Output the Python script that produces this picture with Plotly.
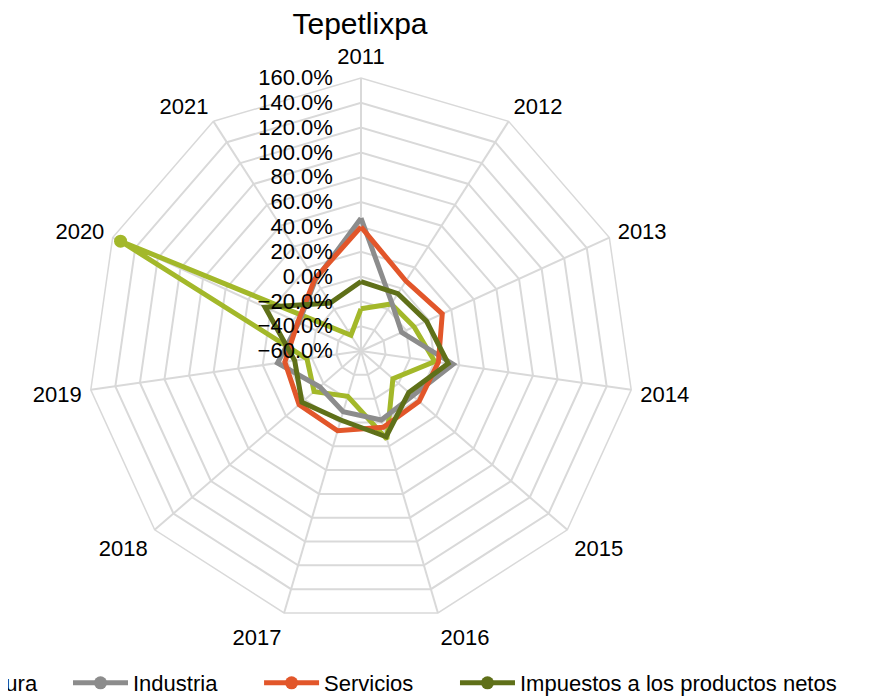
import plotly.graph_objects as go

years = ["2011", "2012", "2013", "2014", "2015", "2016", "2017", "2018", "2019", "2020", "2021"]
agricultura = [-0.26, -0.15, -0.13, 0.00, -0.26, 0.14, -0.22, -0.10, -0.16, 1.53, -0.45]
industria = [0.47, -0.14, -0.24, 0.15, -0.05, -0.02, -0.09, -0.16, 0.08, -0.05, 0.08]
servicios = [0.40, 0.07, 0.12, 0.03, 0.02, 0.04, 0.07, 0.06, 0.02, -0.04, 0.09]
impuestos = [-0.04, -0.05, -0.02, 0.11, -0.09, 0.12, -0.02, 0.03, -0.06, 0.25, -0.14]
series_names = ["Agricultura", "Industria", "Servicios", "Impuestos a los productos netos"]
series_values = [agricultura, industria, servicios, impuestos]
series_colors = ["#A3B82A", "#8C8C8C", "#E2562A", "#5F7019"]

# figure coordinates (page has an 8px body margin)
W, H = 864, 692
MB = 40
GH = H - MB
cx, cy, R = 353, 343, 273
PAD = "\u00a0" * 6  # extra spacing after legend entries

fig = go.Figure()
for i, (name, vals, col) in enumerate(zip(series_names, series_values, series_colors)):
    label = name + (PAD if 0 < i < len(series_names) - 1 else "")
    fig.add_trace(go.Scatterpolar(
        r=vals + [vals[0]],
        theta=years + [years[0]],
        mode="lines+markers",
        name=label,
        legend="legend2" if i == 0 else "legend",
        line=dict(color=col, width=5),
        marker=dict(color=col, size=13),
    ))

font = "Liberation Sans, Arial, sans-serif"
leg_common = dict(
    orientation="h", y=-23 / GH, yanchor="middle", xanchor="left",
    itemwidth=55, font=dict(size=22, family=font, color="#000000"),
    bgcolor="rgba(0,0,0,0)",
)
fig.update_layout(
    width=W, height=H,
    paper_bgcolor="white",
    margin=dict(l=0, r=0, t=0, b=MB, autoexpand=False),
    font=dict(family=font, color="#000000"),
    title=dict(text="Tepetlixpa", x=352 / W, xanchor="center", y=1 - 15 / H,
               yanchor="middle", font=dict(size=30, family=font, color="#000000")),
    polar=dict(
        domain=dict(x=[(cx - R) / W, (cx + R) / W],
                    y=[(GH - cy - R) / GH, (GH - cy + R) / GH]),
        bgcolor="white",
        gridshape="linear",
        radialaxis=dict(
            range=[-0.6, 1.6], tick0=-0.6, dtick=0.2, tickformat=".1%",
            angle=90, side="counterclockwise", tickangle=90,
            showline=False, gridcolor="#D9D9D9", gridwidth=1.5,
            ticks="outside", ticklen=20, tickcolor="rgba(0,0,0,0)",
            tickfont=dict(size=22, family=font, color="#000000"),
        ),
        angularaxis=dict(
            direction="clockwise", rotation=90,
            categoryorder="array", categoryarray=years,
            showline=True, linecolor="#D9D9D9", linewidth=1.5,
            gridcolor="#D9D9D9", gridwidth=1.5,
            ticks="outside", ticklen=4, tickcolor="rgba(0,0,0,0)",
            tickfont=dict(size=22, family=font, color="#000000"),
        ),
    ),
    legend=dict(x=60 / W, **leg_common),
    legend2=dict(x=-141 / W, **leg_common),
)

fig.write_html("out.html")
